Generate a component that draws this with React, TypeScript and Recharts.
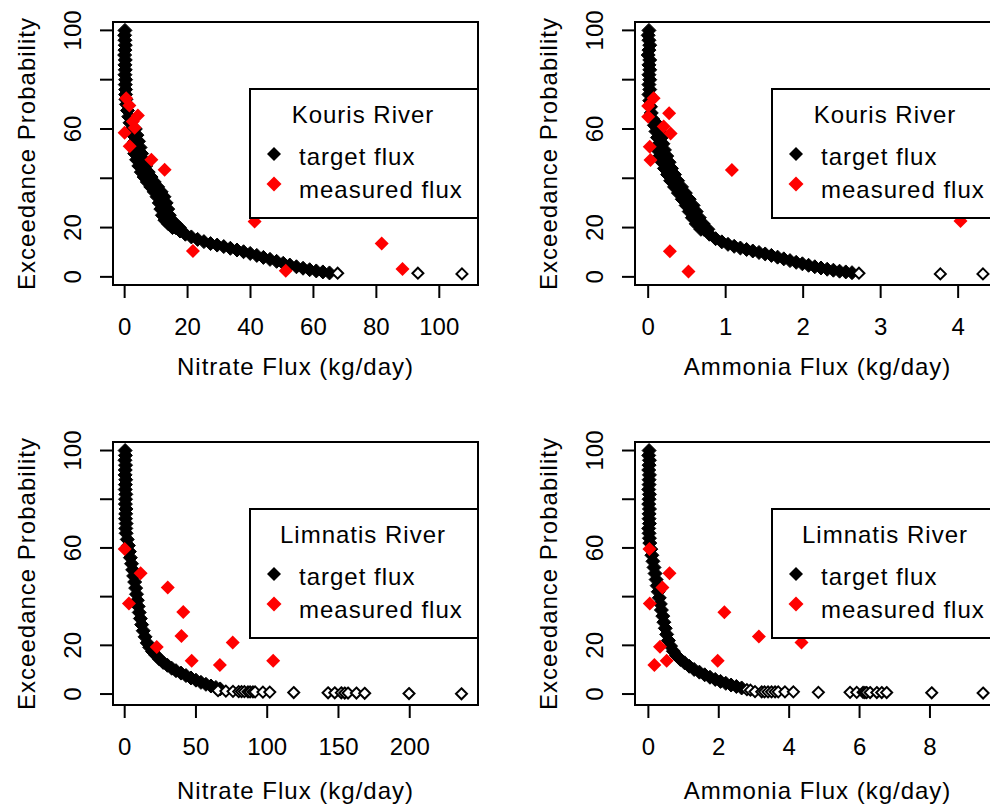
import React from 'react';
import { ScatterChart, Scatter, XAxis, YAxis, ReferenceArea, Legend } from 'recharts';

// Kouris River - nitrate flux (kg/day) vs exceedance probability (%)
// (the last two rows are the outer and inner edge of the wide band)
const kourisNitrateTargetFlux = [
  0.1, 0.0, 0.1, 0.2, 0.1, 0.0, 0.2, 0.1, 0.2, 0.1, 0.3, 0.2, 0.3,
  0.3, 0.4, 0.6, 0.9, 1.3, 1.7, 2.2, 2.7, 3.2, 3.7, 4.2, 4.8, 5.5, 6.3, 7.2, 8.2,
  9.3, 10.4, 11.3, 12.0, 12.5, 13.0, 13.8, 14.9, 16.2, 17.6, 19.3, 21.2, 23.2, 25.2,
  27.3, 29.4, 31.5, 33.6, 35.7, 37.8, 39.9, 42.0, 44.1, 46.2, 48.3, 50.4, 52.5, 54.6,
  56.7, 58.8, 60.9, 63.0, 65.1,
  3.4, 3.9, 4.4, 4.9, 5.4, 6.0, 6.7, 7.5, 8.4, 9.4, 10.5, 11.6, 12.5, 13.2, 13.7, 14.2, 15.0, 16.1, 17.4,
  2.7, 3.2, 3.8, 4.5, 5.3, 6.2, 7.2, 8.3, 9.4, 10.3, 11.0, 11.5, 12.0, 12.8, 13.9, 15.2,
];
const kourisNitrateTargetProb = [
  100, 98, 96, 94, 92, 90, 88, 86, 84, 82, 80, 78, 76,
  74, 72, 70, 67.5, 65, 62.5, 60, 57.5, 55, 52.5, 50, 47.5, 45, 42.5, 40.5, 38.5,
  36.5, 34.5, 32.5, 30, 27.5, 25, 23, 21.5, 20, 18.6, 17.3, 16.2, 15.2, 14.3,
  13.5, 12.9, 12.3, 11.6, 10.9, 10.2, 9.5, 8.7, 7.9, 7.1, 6.3, 5.5, 4.8, 4.1,
  3.5, 2.9, 2.4, 2.0, 1.6,
  60, 57.5, 55, 52.5, 50, 47.5, 45, 42.5, 40.5, 38.5, 36.5, 34.5, 32.5, 30, 27.5, 25, 23, 21.5, 20,
  52.5, 50, 47.5, 45, 42.5, 40.5, 38.5, 36.5, 34.5, 32.5, 30, 27.5, 25, 23, 21.5, 20,
];
const kourisNitrateTailFlux = [67.7, 93.2, 107.2];
const kourisNitrateTailProb = [1.5, 1.5, 1.2];
const kourisNitrateMeasuredFlux = [0.5, 1.5, 4.2, 2.6, 3.2, 0.0, 1.6, 8.5, 12.7, 41.3, 21.7, 51.2, 81.7, 88.3];
const kourisNitrateMeasuredProb = [72.5, 69.5, 65.5, 63, 60.5, 58.5, 53, 47.5, 43.5, 22.5, 10.5, 2.5, 13.5, 3.2];

// Kouris River - ammonia flux
const kourisAmmoniaTargetFlux = [
  0.01, 0.0, 0.01, 0.02, 0.01, 0.0, 0.02, 0.01, 0.02, 0.01, 0.02, 0.01, 0.02,
  0.01, 0.02, 0.03, 0.04, 0.06, 0.08, 0.1, 0.12, 0.14, 0.16, 0.19, 0.22, 0.25, 0.29,
  0.33, 0.38, 0.43, 0.48, 0.53, 0.57, 0.61, 0.66, 0.72, 0.79, 0.87, 0.95, 1.03, 1.11,
  1.19, 1.27, 1.35, 1.43, 1.51, 1.59, 1.67, 1.75, 1.83, 1.91, 1.99, 2.07, 2.15, 2.23,
  2.31, 2.39, 2.47, 2.55, 2.63,
  0.13, 0.15, 0.17, 0.19, 0.21, 0.24, 0.27, 0.3, 0.34, 0.38, 0.43, 0.48, 0.53, 0.58, 0.62, 0.66, 0.71, 0.77,
  0.12, 0.15, 0.18, 0.21, 0.25, 0.29, 0.34, 0.39, 0.44, 0.49, 0.53, 0.57, 0.62, 0.68,
];
const kourisAmmoniaTargetProb = [
  100, 98, 96, 94, 92, 90, 88, 86, 84, 82, 80, 78, 76,
  74, 71.5, 69, 66.5, 64, 61.5, 59, 56.5, 54, 51.5, 49, 46.5, 44, 41.5,
  39, 36.5, 34, 31.5, 29, 26.5, 24, 21.5, 19.3, 17.3, 15.5, 14.2, 13.2, 12.4,
  11.7, 11.1, 10.5, 9.9, 9.3, 8.7, 8.0, 7.3, 6.6, 5.9, 5.3, 4.7, 4.1, 3.6,
  3.1, 2.7, 2.3, 2.0, 1.7,
  61.5, 59, 56.5, 54, 51.5, 49, 46.5, 44, 41.5, 39, 36.5, 34, 31.5, 29, 26.5, 24, 21.5, 19.3,
  51.5, 49, 46.5, 44, 41.5, 39, 36.5, 34, 31.5, 29, 26.5, 24, 21.5, 19.3,
];
const kourisAmmoniaTailFlux = [2.72, 3.77, 4.32];
const kourisAmmoniaTailProb = [1.5, 1.2, 1.2];
const kourisAmmoniaMeasuredFlux = [0.0, 0.07, 0.0, 0.27, 0.2, 0.29, 0.02, 0.03, 1.08, 0.28, 0.52, 4.03];
const kourisAmmoniaMeasuredProb = [69.3, 72.5, 65, 66.4, 61, 58.2, 52.8, 47.4, 43.4, 10.4, 2.2, 22.7];

// Limnatis River - nitrate flux
const limnatisNitrateTargetFlux = [
  0.3, 0.5, 0.2, 0.6, 0.4, 0.3, 0.7, 0.5, 0.4, 0.8, 0.6, 0.5, 0.9, 0.7, 0.6, 1.0, 0.8,
  1.0, 1.8, 2.6, 3.3, 4.0, 4.8, 5.6, 6.3, 7.0, 7.7, 8.3, 8.9, 9.5, 10.2, 11.0, 11.9,
  13.0, 14.3, 15.8, 17.5, 19.5, 21.8, 24.3, 27.0, 30.0, 33.0, 36.0, 39.5, 43.0, 46.5,
  50.0, 53.5, 57.0, 60.5, 64.0, 67.0,
];
const limnatisNitrateTargetProb = [
  100, 98, 96, 94, 92, 90, 88, 86, 84, 82, 80, 78, 76, 74, 72, 70, 68,
  66, 63.5, 61, 58.5, 56, 53.5, 51, 48.5, 46, 43.5, 41, 38.5, 36, 33.5, 31, 28.5,
  26, 23.5, 21, 19.2, 17.5, 16.0, 14.4, 13.0, 11.8, 10.6, 9.6, 8.6, 7.6, 6.6,
  5.7, 4.8, 4.0, 3.3, 2.7, 2.1,
];
const limnatisNitrateTailFlux = [
  65.5, 71, 76, 80, 82, 84, 86.5, 88, 90, 91.5, 97, 101.8, 118.6, 142.7, 147.4, 152,
  154.4, 156.7, 162.6, 168.4, 199.5, 236.3,
];
const limnatisNitrateTailProb = [
  1.4, 1.2, 1.1, 1.0, 1.0, 1.0, 0.9, 0.9, 0.9, 0.9, 0.8, 0.8, 0.6, 0.5, 0.5, 0.5,
  0.4, 0.4, 0.4, 0.3, 0.2, 0.1,
];
const limnatisNitrateMeasuredFlux = [0.0, 11.2, 30.2, 3.0, 41.1, 39.8, 75.8, 22.5, 47.0, 66.8, 104.2];
const limnatisNitrateMeasuredProb = [59.6, 49.6, 43.8, 37.2, 33.7, 23.8, 21.2, 19.3, 13.7, 11.9, 13.7];

// Limnatis River - ammonia flux
const limnatisAmmoniaTargetFlux = [
  0.02, 0.01, 0.03, 0.02, 0.01, 0.03, 0.02, 0.02, 0.01, 0.03, 0.02, 0.01, 0.03, 0.02,
  0.02, 0.03, 0.01, 0.02, 0.03,
  0.04, 0.07, 0.1, 0.13, 0.16, 0.19, 0.22, 0.25, 0.28, 0.31, 0.34, 0.37, 0.41, 0.44,
  0.48, 0.52, 0.57, 0.63, 0.71, 0.8, 0.91, 1.03, 1.16, 1.3, 1.45, 1.6, 1.75, 1.9,
  2.05, 2.2, 2.35, 2.5, 2.65,
];
const limnatisAmmoniaTargetProb = [
  100, 98, 96, 94, 92, 90, 88, 86, 84, 82, 80, 78, 76, 74, 72, 70, 68, 66, 64,
  62, 59.5, 57, 54.5, 52, 49.5, 47, 44.5, 42, 39.5, 37, 34.5, 32, 29.5,
  27, 24.5, 22, 19.7, 17.6, 15.8, 14.2, 12.8, 11.4, 10.1, 9.0, 7.9, 6.9, 6.0,
  5.2, 4.4, 3.7, 3.1, 2.5,
];
const limnatisAmmoniaTailFlux = [
  2.8, 2.9, 3.03, 3.22, 3.3, 3.4, 3.5, 3.6, 3.69, 3.88, 4.12, 4.83, 5.73, 5.92, 6.1,
  6.15, 6.2, 6.3, 6.49, 6.63, 6.77, 8.05, 9.51,
];
const limnatisAmmoniaTailProb = [
  1.8, 1.6, 1.0, 0.9, 0.9, 0.9, 0.9, 0.9, 0.9, 0.9, 0.9, 0.7, 0.7, 0.7, 0.7,
  0.6, 0.6, 0.6, 0.6, 0.6, 0.6, 0.5, 0.4,
];
const limnatisAmmoniaMeasuredFlux = [0.03, 0.6, 0.4, 0.04, 2.16, 3.14, 4.35, 0.33, 1.97, 0.52, 0.17];
const limnatisAmmoniaMeasuredProb = [59.6, 49.6, 43.8, 37.2, 33.6, 23.6, 21.2, 19.4, 13.7, 13.7, 11.9];

const yTicks = [0, 20, 40, 60, 80, 100];
const yTickLabels = [0, 20, 60, 100];
const legendLabels = ['target flux', 'measured flux'];

const FONT = '"Liberation Sans", Arial, Helvetica, sans-serif';
const RED = '#ff0000';

const toPoints = (flux: number[], prob: number[]) => flux.map((x, i) => ({ x, y: prob[i] }));

const diamond = (cx: number, cy: number, r: number) =>
  `${cx},${cy - r} ${cx + r},${cy} ${cx},${cy + r} ${cx - r},${cy}`;

// dense target points overlap into a solid band, like R's pch 5 does
const TargetShape = (p: any) => (
  <polygon points={diamond(p.cx, p.cy, 7)} fill="#000" stroke="#000" strokeWidth={1} />
);
const TailShape = (p: any) => (
  <polygon points={diamond(p.cx, p.cy, 5.5)} fill="#fff" stroke="#000" strokeWidth={2} />
);
const MeasuredShape = (p: any) => <polygon points={diamond(p.cx, p.cy, 7)} fill={RED} />;

const panels = [
  {
    left: 0, top: 0, width: 520, height: 400,
    box: { left: 113, top: 22, right: 478, bottom: 285 },
    xDomain: [-3.7, 112.3], yDomain: [-3.3, 103.4],
    xTicks: [0, 20, 40, 60, 80, 100],
    xLabel: 'Nitrate Flux (kg/day)', xLabelGap: 90, river: 'Kouris River',
    target: toPoints(kourisNitrateTargetFlux, kourisNitrateTargetProb),
    tail: toPoints(kourisNitrateTailFlux, kourisNitrateTailProb),
    measured: toPoints(kourisNitrateMeasuredFlux, kourisNitrateMeasuredProb),
  },
  {
    left: 495, top: 0, width: 520, height: 400,
    box: { left: 140, top: 22, right: 505, bottom: 285 },
    xDomain: [-0.17, 4.54], yDomain: [-3.3, 103.4],
    xTicks: [0, 1, 2, 3, 4],
    xLabel: 'Ammonia Flux (kg/day)', xLabelGap: 90, river: 'Kouris River',
    target: toPoints(kourisAmmoniaTargetFlux, kourisAmmoniaTargetProb),
    tail: toPoints(kourisAmmoniaTailFlux, kourisAmmoniaTailProb),
    measured: toPoints(kourisAmmoniaMeasuredFlux, kourisAmmoniaMeasuredProb),
  },
  {
    left: 0, top: 405, width: 520, height: 402,
    box: { left: 113, top: 37, right: 478, bottom: 300 },
    xDomain: [-8.2, 247.9], yDomain: [-4.5, 103.5],
    xTicks: [0, 50, 100, 150, 200],
    xLabel: 'Nitrate Flux (kg/day)', xLabelGap: 94, river: 'Limnatis River',
    target: toPoints(limnatisNitrateTargetFlux, limnatisNitrateTargetProb),
    tail: toPoints(limnatisNitrateTailFlux, limnatisNitrateTailProb),
    measured: toPoints(limnatisNitrateMeasuredFlux, limnatisNitrateMeasuredProb),
  },
  {
    left: 495, top: 405, width: 520, height: 402,
    box: { left: 140, top: 37, right: 505, bottom: 300 },
    xDomain: [-0.38, 9.99], yDomain: [-4.5, 103.5],
    xTicks: [0, 2, 4, 6, 8],
    xLabel: 'Ammonia Flux (kg/day)', xLabelGap: 94, river: 'Limnatis River',
    target: toPoints(limnatisAmmoniaTargetFlux, limnatisAmmoniaTargetProb),
    tail: toPoints(limnatisAmmoniaTailFlux, limnatisAmmoniaTailProb),
    measured: toPoints(limnatisAmmoniaMeasuredFlux, limnatisAmmoniaMeasuredProb),
  },
];

const textStyle = { fontFamily: FONT, fontSize: 24, fill: '#000' };

const LegendBox = ({ river }: { river: string }) => (
  <svg width={232} height={132} style={{ display: 'block' }}>
    <rect x={1} y={1} width={228} height={129} fill="#fff" stroke="#000" strokeWidth={2} />
    <text x={114} y={35} textAnchor="middle" style={{ ...textStyle, letterSpacing: 1 }}>
      {river}
    </text>
    <polygon points={diamond(25, 66, 7)} fill="#000" />
    <text x={50} y={77} style={{ ...textStyle, letterSpacing: 1 }}>
      {legendLabels[0]}
    </text>
    <polygon points={diamond(25, 96, 7.5)} fill={RED} />
    <text x={50} y={110} style={{ ...textStyle, letterSpacing: 1 }}>
      {legendLabels[1]}
    </text>
  </svg>
);

const Panel = ({ cfg }: { cfg: any }) => {
  const { box, width, height } = cfg;
  const margin = {
    left: box.left - 60,
    top: box.top,
    right: width - box.right,
    bottom: height - box.bottom - 60,
  };
  const midX = (box.left + box.right) / 2;
  const midY = (box.top + box.bottom) / 2;
  const yTitleX = box.left - 78;

  return (
    <div style={{ position: 'absolute', left: cfg.left, top: cfg.top }}>
      <ScatterChart width={width} height={height} margin={margin}>
        <XAxis
          type="number"
          dataKey="x"
          domain={cfg.xDomain}
          allowDataOverflow
          ticks={cfg.xTicks}
          interval={0}
          height={60}
          axisLine={false}
          tickLine={{ stroke: '#000', strokeWidth: 2 }}
          tickSize={13}
          tickMargin={0}
          tick={(p: any) => (
            <text x={p.x} y={box.bottom + 50} textAnchor="middle" style={textStyle}>
              {p.payload.value}
            </text>
          )}
          label={() => (
            <text
              x={midX}
              y={box.bottom + cfg.xLabelGap}
              textAnchor="middle"
              style={{ ...textStyle, letterSpacing: 1 }}
            >
              {cfg.xLabel}
            </text>
          )}
        />
        <YAxis
          type="number"
          dataKey="y"
          domain={cfg.yDomain}
          allowDataOverflow
          ticks={yTicks}
          interval={0}
          width={60}
          axisLine={false}
          tickLine={{ stroke: '#000', strokeWidth: 2 }}
          tickSize={13}
          tickMargin={0}
          tick={(p: any) => {
            if (!yTickLabels.includes(p.payload.value)) return <g />;
            const bx = box.left - 32;
            return (
              <text
                x={bx}
                y={p.y}
                transform={`rotate(-90 ${bx} ${p.y})`}
                textAnchor="middle"
                style={textStyle}
              >
                {p.payload.value}
              </text>
            );
          }}
          label={() => (
            <text
              x={yTitleX}
              y={midY}
              transform={`rotate(-90 ${yTitleX} ${midY})`}
              textAnchor="middle"
              style={{ ...textStyle, letterSpacing: 1 }}
            >
              Exceedance Probability
            </text>
          )}
        />
        <ReferenceArea
          x1={cfg.xDomain[0]}
          x2={cfg.xDomain[1]}
          y1={cfg.yDomain[0]}
          y2={cfg.yDomain[1]}
          fill="none"
          fillOpacity={0}
          stroke="#000"
          strokeWidth={2}
          ifOverflow="visible"
        />
        <Scatter name="target flux" data={cfg.target} shape={TargetShape} isAnimationActive={false} />
        <Scatter name="target flux tail" data={cfg.tail} shape={TailShape} isAnimationActive={false} />
        <Scatter name="measured flux" data={cfg.measured} shape={MeasuredShape} isAnimationActive={false} />
        <Legend
          layout="vertical"
          align="center"
          verticalAlign="middle"
          wrapperStyle={{ left: box.right - 229, top: box.top + 66, width: 232, height: 132 }}
          content={() => <LegendBox river={cfg.river} />}
        />
      </ScatterChart>
    </div>
  );
};

export default function App() {
  return (
    <div
      style={{
        position: 'absolute',
        left: 0,
        top: 0,
        width: 990,
        height: 807,
        overflow: 'hidden',
        background: '#fff',
      }}
    >
      {panels.map((cfg, i) => (
        <Panel key={i} cfg={cfg} />
      ))}
    </div>
  );
}
